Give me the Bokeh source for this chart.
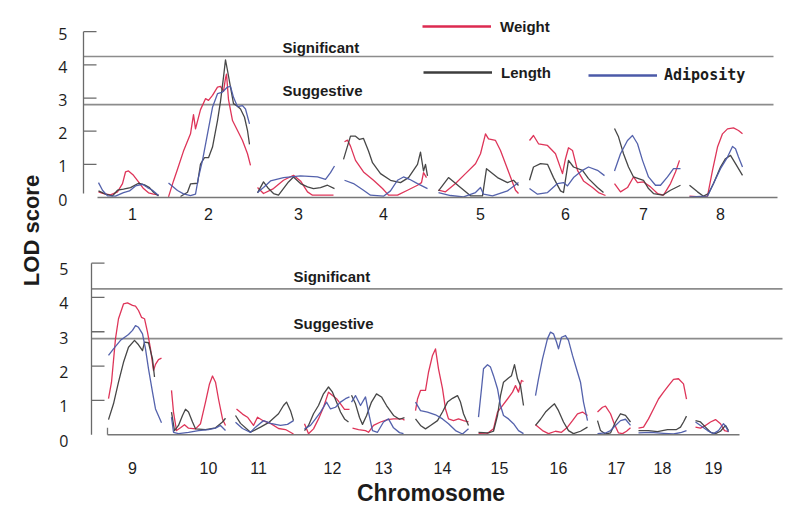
import numpy as np
from bokeh.plotting import figure
from bokeh.models import Range1d, Label, Legend, LegendItem
from bokeh.core.properties import value
from bokeh.embed import file_html
from bokeh.resources import INLINE

# ---------------- data ----------------
CHROMS = [str(i) for i in range(1, 20)]
N_TOP = 8  # chromosomes 1-8 in the upper panel, 9-19 in the lower one
# map offset of each chromosome inside its panel, and its drawn length (map units)
CHR_START = [0, 71, 160, 246, 341, 432, 517, 592,
             0, 63, 128, 196, 244, 308, 371, 427, 490, 531, 588]
CHR_LEN = [70, 80, 82, 80, 84, 72, 58, 62,
           50, 76, 46, 58, 64, 54, 42, 48, 38, 48, 36]

SIGNIFICANT = 4.25
SUGGESTIVE = 2.8
LOD_TICKS = [0, 1, 2, 3, 4, 5]

# positions are relative to the start of each chromosome
WEIGHT_POS = [
    [1, 6, 13, 20, 25, 28, 31, 36, 41, 46, 51, 56, 61],
    [0, 5, 9, 15, 22, 25, 27, 32, 37, 40, 44, 49, 52, 55, 57, 58, 60, 64, 69, 74, 79, 82],
    [0, 6, 16, 26, 36, 43, 50, 55, 76],
    [1, 4, 7, 12, 20, 30, 39, 45, 54, 64, 74, 78, 80, 83],
    [0, 7, 17, 27, 37, 42, 47, 50, 57, 62, 67, 72, 77, 80],
    [0, 4, 9, 18, 26, 33, 36, 39, 43, 48, 54, 63, 69, 76],
    [0, 6, 13, 19, 23, 29, 36, 43, 49, 56, 61, 65],
    [0, 11, 18, 23, 28, 33, 38, 44, 49, 53],
    [1, 4, 8, 11, 16, 20, 25, 28, 31, 34, 37, 40, 43, 46, 48, 51, 54],
    [1, 3, 6, 10, 14, 18, 25, 30, 35, 39, 42, 45, 48, 52, 55],
    [1, 7, 12, 18, 22, 28, 35, 43, 50, 58],
    [1, 5, 10, 15, 20, 25, 29, 33, 37, 41, 46],
    [1, 7, 14, 17, 22, 29, 36, 42, 51, 53],
    [0, 2, 5, 10, 13, 17, 20, 23, 27, 30, 33, 38, 43, 48, 53],
    [0, 8, 15, 19, 24, 29, 34, 37, 40, 43, 45],
    [1, 8, 14, 21, 27, 33, 38, 43, 48, 53],
    [0, 5, 8, 13, 17, 21, 25, 29, 33],
    [0, 5, 10, 15, 20, 25, 30, 35, 40, 45, 48],
    [0, 5, 10, 15, 20, 25, 29, 33],
]
WEIGHT_LOD = [
    [0.17, 0.12, 0.08, 0.17, 0.42, 0.77, 0.8, 0.67, 0.47, 0.27, 0.14, 0.1, 0.08],
    [0.02, 0.5, 0.85, 1.4, 1.92, 2.5, 2.07, 2.65, 2.98, 2.93, 3.08, 3.33, 3.35, 3.2, 3.6, 3.72, 2.95, 2.32, 2.02, 1.72, 1.32, 0.97],
    [0.3, 0.12, 0.27, 0.52, 0.67, 0.5, 0.17, 0.07, 0.07],
    [1.68, 1.73, 1.55, 1.12, 0.77, 0.52, 0.27, 0.07, 0.07, 0.22, 0.37, 0.45, 0.75, 0.6],
    [0.22, 0.17, 0.42, 0.72, 1.02, 1.32, 1.92, 1.77, 1.72, 1.42, 1.02, 0.62, 0.22, 0.12],
    [1.72, 1.87, 1.62, 1.57, 1.32, 0.72, 1.17, 1.5, 1.42, 0.82, 0.5, 0.3, 0.15, 0.06],
    [0.42, 0.17, 0.3, 0.62, 0.45, 0.47, 0.32, 0.12, 0.07, 0.42, 0.77, 1.12],
    [0.04, 0.02, 0.04, 0.82, 1.52, 1.92, 2.07, 2.1, 2.02, 1.92],
    [1.05, 1.53, 2.8, 3.38, 3.81, 3.84, 3.77, 3.75, 3.62, 3.42, 3.38, 2.99, 2.5, 1.87, 2.05, 2.19, 2.23],
    [1.29, 0.66, 0.12, 0.2, 0.29, 0.19, 0.17, 0.32, 0.95, 1.48, 1.71, 1.53, 1.04, 0.46, 0.27],
    [0.75, 0.6, 0.51, 0.27, 0.51, 0.4, 0.33, 0.18, 0.15, 0.02],
    [0.32, 0.03, 0.17, 0.46, 0.8, 1.24, 1.14, 1.05, 0.9, 0.74, 0.74],
    [0.19, 0.15, 0.12, 0.07, 0.27, 0.37, 0.44, 0.46, 0.46, 0.42],
    [0.7, 1.04, 1.29, 1.29, 1.82, 2.31, 2.5, 1.92, 1.34, 0.75, 0.46, 0.41, 0.46, 0.41, 0.37],
    [0.03, 0.02, 0.17, 0.66, 0.85, 1.04, 1.24, 1.43, 1.24, 1.58, 1.55],
    [0.29, 0.12, 0.03, 0.1, 0.07, 0.22, 0.41, 0.61, 0.66, 0.56],
    [0.66, 0.8, 0.83, 0.61, 0.3, 0.05, 0.03, 0.1, 0.2],
    [0.19, 0.22, 0.46, 0.75, 1.04, 1.24, 1.43, 1.61, 1.63, 1.48, 1.04],
    [0.22, 0.19, 0.27, 0.37, 0.44, 0.32, 0.12, 0.09],
]

LENGTH_POS = [
    [1, 8, 15, 20, 26, 33, 41, 47, 52, 56, 61],
    [12, 19, 22, 29, 32, 36, 40, 44, 49, 52, 55, 57, 59, 62, 65, 69, 72, 76, 79, 81],
    [0, 6, 11, 16, 21, 31, 36, 43, 50, 56, 63, 70, 77],
    [0, 7, 12, 16, 20, 25, 29, 37, 47, 57, 65, 74, 77, 80, 82, 84],
    [0, 10, 22, 32, 44, 48, 59, 69, 75, 80],
    [0, 4, 11, 18, 24, 31, 34, 39, 44, 53, 59, 68, 74],
    [0, 4, 9, 14, 19, 24, 29, 34, 39, 48, 56, 66],
    [0, 8, 14, 19, 24, 31, 36, 41, 46, 53],
    [1, 6, 11, 16, 21, 27, 31, 35, 37, 41, 45, 47],
    [1, 4, 8, 12, 15, 18, 22, 25, 35, 45, 52, 55],
    [0, 5, 15, 25, 33, 43, 48, 51, 55, 58],
    [1, 5, 10, 15, 20, 25, 29, 33, 37, 41, 45],
    [0, 4, 8, 11, 15, 20, 25, 30, 35, 42, 48, 53],
    [0, 5, 10, 15, 22, 27, 32, 37, 42, 45, 48, 53],
    [0, 10, 15, 19, 22, 25, 30, 33, 36, 39, 42, 45],
    [1, 6, 11, 16, 20, 24, 29, 34, 39, 46, 53],
    [0, 3, 8, 13, 18, 23, 28, 33],
    [0, 10, 19, 29, 38, 42, 45, 48],
    [0, 5, 10, 15, 20, 25, 30, 33],
]
LENGTH_LOD = [
    [0.2, 0.1, 0.05, 0.22, 0.25, 0.3, 0.43, 0.38, 0.3, 0.16, 0.05],
    [0.03, 0.16, 0.41, 0.43, 1.01, 1.2, 1.2, 1.52, 2.32, 2.9, 3.63, 4.15, 3.83, 3.33, 2.83, 2.75, 2.67, 2.42, 2.02, 1.6],
    [0.14, 0.47, 0.27, 0.12, 0.07, 0.47, 0.62, 0.42, 0.32, 0.27, 0.3, 0.37, 0.27],
    [1.15, 1.85, 1.85, 1.75, 1.78, 1.4, 1.05, 0.72, 0.52, 0.45, 0.6, 1.0, 1.37, 0.8, 1.0, 0.65],
    [0.2, 0.6, 0.3, 0.05, 0.05, 0.87, 0.6, 0.45, 0.52, 0.36],
    [0.52, 0.92, 1.02, 1.0, 0.6, 0.2, 0.15, 1.12, 0.92, 0.82, 0.57, 0.3, 0.15],
    [2.08, 1.83, 1.32, 0.92, 0.62, 0.57, 0.52, 0.27, 0.12, 0.07, 0.22, 0.37],
    [0.37, 0.17, 0.04, 0.12, 0.42, 0.92, 1.17, 1.27, 1.02, 0.67],
    [0.44, 0.9, 1.53, 2.11, 2.55, 2.75, 2.62, 2.45, 2.7, 2.68, 2.21, 1.68],
    [0.66, 0.12, 0.27, 0.56, 0.74, 0.66, 0.37, 0.17, 0.15, 0.2, 0.37, 0.48],
    [0.56, 0.33, 0.07, 0.22, 0.35, 0.61, 0.85, 0.95, 0.7, 0.41],
    [0.12, 0.27, 0.61, 0.85, 1.19, 1.39, 1.24, 0.95, 0.66, 0.46, 0.37],
    [1.15, 0.9, 0.5, 0.3, 0.55, 0.95, 1.19, 1.1, 0.85, 0.56, 0.45, 0.5],
    [0.46, 0.27, 0.17, 0.27, 0.41, 0.66, 0.95, 1.06, 1.14, 0.95, 0.61, 0.27],
    [0.07, 0.05, 0.1, 0.56, 1.14, 1.53, 1.65, 1.72, 2.04, 1.63, 1.43, 0.85],
    [0.27, 0.45, 0.66, 0.8, 0.9, 0.7, 0.37, 0.12, 0.03, 0.1, 0.22],
    [0.41, 0.12, 0.02, 0.05, 0.37, 0.61, 0.56, 0.37],
    [0.12, 0.12, 0.09, 0.15, 0.15, 0.22, 0.37, 0.54],
    [0.41, 0.37, 0.22, 0.07, 0.03, 0.1, 0.27, 0.12],
]

ADIPOSITY_POS = [
    [1, 5, 10, 18, 26, 32, 38, 45, 50, 55, 61],
    [0, 9, 15, 22, 27, 30, 34, 39, 44, 49, 54, 59, 62, 65, 69, 74, 77, 81],
    [0, 6, 13, 26, 43, 60, 68, 73, 77],
    [1, 10, 20, 27, 40, 47, 54, 60, 66, 74, 84],
    [0, 12, 25, 37, 42, 45, 54, 69, 80],
    [0, 8, 18, 28, 34, 38, 44, 53, 59, 68, 75],
    [0, 6, 13, 18, 23, 28, 34, 41, 46, 53, 59, 66],
    [0, 18, 24, 31, 38, 43, 46, 49, 53],
    [1, 6, 13, 21, 25, 28, 31, 35, 38, 41, 45, 48, 54],
    [1, 3, 8, 18, 28, 38, 45, 50, 55],
    [0, 7, 15, 20, 28, 35, 45, 52, 58],
    [1, 7, 12, 17, 23, 27, 32, 37, 42, 46],
    [0, 4, 9, 14, 17, 21, 26, 32, 37, 42, 48, 52],
    [0, 5, 12, 20, 27, 33, 40, 47, 53],
    [0, 3, 5, 9, 12, 15, 19, 22, 25, 30, 35, 40, 45],
    [1, 4, 8, 13, 16, 19, 22, 24, 27, 31, 34, 38, 43, 46, 49, 53],
    [0, 8, 13, 18, 23, 28, 33],
    [0, 12, 25, 35, 43, 48],
    [0, 5, 12, 18, 23, 28, 31, 33],
]
ADIPOSITY_LOD = [
    [0.45, 0.22, 0.05, 0.04, 0.15, 0.2, 0.35, 0.4, 0.3, 0.22, 0.06],
    [0.44, 0.21, 0.11, 0.06, 0.1, 0.61, 1.12, 1.92, 2.72, 3.13, 3.18, 3.33, 3.35, 3.02, 2.74, 2.77, 2.67, 2.22],
    [0.15, 0.3, 0.5, 0.6, 0.65, 0.62, 0.55, 0.75, 0.95],
    [0.52, 0.42, 0.22, 0.07, 0.04, 0.2, 0.52, 0.62, 0.55, 0.42, 0.27],
    [0.15, 0.06, 0.02, 0.15, 0.3, 0.1, 0.05, 0.2, 0.45],
    [0.27, 0.1, 0.15, 0.42, 0.45, 0.35, 0.6, 0.82, 0.92, 0.82, 0.66],
    [0.8, 1.32, 1.72, 1.87, 1.62, 1.12, 0.62, 0.37, 0.37, 0.62, 0.87, 0.87],
    [0.02, 0.04, 0.42, 0.87, 1.22, 1.54, 1.47, 1.22, 0.92],
    [2.31, 2.5, 2.75, 2.92, 3.04, 3.18, 3.13, 2.94, 2.5, 1.92, 1.24, 0.75, 0.35],
    [0.51, 0.07, 0.03, 0.07, 0.12, 0.15, 0.19, 0.27, 0.12],
    [0.36, 0.18, 0.07, 0.22, 0.41, 0.33, 0.27, 0.3, 0.41],
    [0.17, 0.27, 0.46, 0.66, 0.95, 0.75, 0.8, 0.95, 1.05, 1.1],
    [0.95, 1.14, 0.85, 1.1, 0.66, 0.12, 0.07, 0.37, 0.46, 0.2, 0.06, 0.03],
    [0.95, 0.7, 0.66, 0.58, 0.46, 0.32, 0.12, 0.02, 0.17],
    [0.51, 1.34, 1.92, 2.04, 1.97, 1.72, 1.34, 0.85, 0.56, 0.46, 0.32, 0.12, 0.03],
    [1.14, 1.63, 2.21, 2.8, 2.99, 2.94, 2.7, 2.5, 2.84, 2.89, 2.75, 2.31, 1.82, 1.53, 0.95, 0.41],
    [0.03, 0.05, 0.12, 0.27, 0.41, 0.45, 0.27],
    [0.05, 0.07, 0.04, 0.02, 0.07, 0.12],
    [0.37, 0.27, 0.12, 0.03, 0.12, 0.32, 0.2, 0.08],
]

TRAITS = ["Weight", "Length", "Adiposity"]

# ---------------- style ----------------
RED = "#dc2a50"
DARK = "#3d3d3d"
BLUE = "#4b5aa8"
TRAIT_COLORS = [RED, DARK, BLUE]
CURVE_W = 1.3
THRESH_COLOR = "#8c8c8c"
AXIS_COLOR = "#6a6a6a"
BASE_COLOR = "#777777"
TEXT = "#1c1c1c"
SANS = "Liberation Sans"
TICK_LEN = 13

SERIES = [(WEIGHT_POS, WEIGHT_LOD), (LENGTH_POS, LENGTH_LOD),
          (ADIPOSITY_POS, ADIPOSITY_LOD)]

W, H = 800, 506
p = figure(width=W, height=H, x_range=Range1d(-97, 703),
           y_range=Range1d(-9.318, 5.941), x_axis_type=None, y_axis_type=None,
           toolbar_location=None, output_backend="svg", min_border=0)
p.extra_x_ranges = {"bot": Range1d(-107, 693)}
p.extra_y_ranges = {"bot": Range1d(-2.093, 12.655)}
p.outline_line_color = None
p.background_fill_color = "white"
p.border_fill_color = "white"


def draw_panel(idx, rng, axis_x, axis_y0, x_end, line_end, ylab_gap, ylab_dy,
               xlab_dy, cap_x, cap_offsets, start_tick):
    kw = dict(x_range_name=rng, y_range_name=rng)
    # threshold lines
    p.segment(x0=[axis_x, axis_x], y0=[SIGNIFICANT, SUGGESTIVE],
              x1=[line_end, line_end], y1=[SIGNIFICANT, SUGGESTIVE],
              line_color=THRESH_COLOR, line_width=1.6, **kw)
    # curves
    for (pos_list, lod_list), col in zip(SERIES, TRAIT_COLORS):
        xs = [list(CHR_START[i] + np.array(pos_list[i], dtype=float)) for i in idx]
        ys = [list(lod_list[i]) for i in idx]
        p.multi_line(xs=xs, ys=ys, line_color=col, line_width=CURVE_W,
                     line_alpha=0.95, line_join="round", **kw)
    # y axis line, ticks and labels
    p.segment(x0=[axis_x], y0=[axis_y0], x1=[axis_x], y1=[LOD_TICKS[-1]],
              line_color=AXIS_COLOR, line_width=1.3, **kw)
    tv = LOD_TICKS[1:]
    p.segment(x0=[axis_x] * len(tv), y0=tv, x1=[axis_x + TICK_LEN] * len(tv),
              y1=tv, line_color=AXIS_COLOR, line_width=1.3, **kw)
    p.text(x=[axis_x - ylab_gap] * len(LOD_TICKS), y=LOD_TICKS,
           text=[str(t) for t in LOD_TICKS], text_align="right",
           text_baseline="middle", y_offset=ylab_dy,
           text_font=value("Open Sans"), text_font_size="16px",
           text_color=TEXT, **kw)
    # chromosome axis (baseline) and chromosome names
    p.segment(x0=[0], y0=[0], x1=[x_end], y1=[0], line_color=BASE_COLOR,
              line_width=1.6, **kw)
    if start_tick:
        p.segment(x0=[0], y0=[0], x1=[0], y1=[0.2], line_color=BASE_COLOR,
                  line_width=1.3, **kw)
    mids = [CHR_START[i] + CHR_LEN[i] / 2 for i in idx]
    p.text(x=mids, y=[0] * len(mids), text=[CHROMS[i] for i in idx],
           text_align="center", text_baseline="middle", y_offset=xlab_dy,
           text_font=value(SANS), text_font_size="16px", text_color=TEXT, **kw)
    # threshold captions
    p.text(x=[cap_x, cap_x], y=[SIGNIFICANT, SUGGESTIVE],
           text=["Significant", "Suggestive"], y_offset=list(cap_offsets),
           text_align="left", text_baseline="middle", text_font=value(SANS),
           text_font_style="bold", text_font_size="15px", text_color=TEXT, **kw)


top_idx = list(range(0, N_TOP))
bot_idx = list(range(N_TOP, len(CHROMS)))

draw_panel(top_idx, "default", -14, 0.12, 680, 676, 16, 2, 16, 185, (-9, -14), False)
draw_panel(bot_idx, "bot", -16, 0, 632, 675, 23, 6, 33, 186, (-12, -15), True)

# legend
legend_specs = [
    ("Weight", RED, (422, 470), SANS, 9),
    ("Length", DARK, (423, 424), SANS, 9),
    ("Adiposity", BLUE, (588, 421), "DejaVu Sans Mono", 7),
]
for name, col, loc, font, standoff in legend_specs:
    r = p.line(x=np.array([np.nan]), y=np.array([np.nan]), line_color=col,
               line_width=2.3)
    leg = Legend(items=[LegendItem(label=name, renderers=[r])], location=loc,
                 glyph_width=69, glyph_height=20, label_height=20,
                 label_standoff=standoff, padding=0, margin=0, spacing=0,
                 border_line_color=None, background_fill_alpha=0,
                 label_text_font=font, label_text_font_style="bold",
                 label_text_font_size="15px", label_text_color=TEXT)
    p.add_layout(leg, "center")

# axis titles
p.add_layout(Label(x=430.5, y=14, x_units="screen", y_units="screen",
                   text="Chromosome", text_font=SANS, text_font_style="bold",
                   text_font_size="23px", text_color=TEXT,
                   text_align="center", text_baseline="middle"))
p.add_layout(Label(x=31, y=276, x_units="screen", y_units="screen",
                   text="LOD score", angle=90, angle_units="deg",
                   text_font=SANS, text_font_style="bold",
                   text_font_size="22px", text_color=TEXT,
                   text_align="center", text_baseline="middle"))

open("out.html", "w").write(file_html(p, INLINE))
